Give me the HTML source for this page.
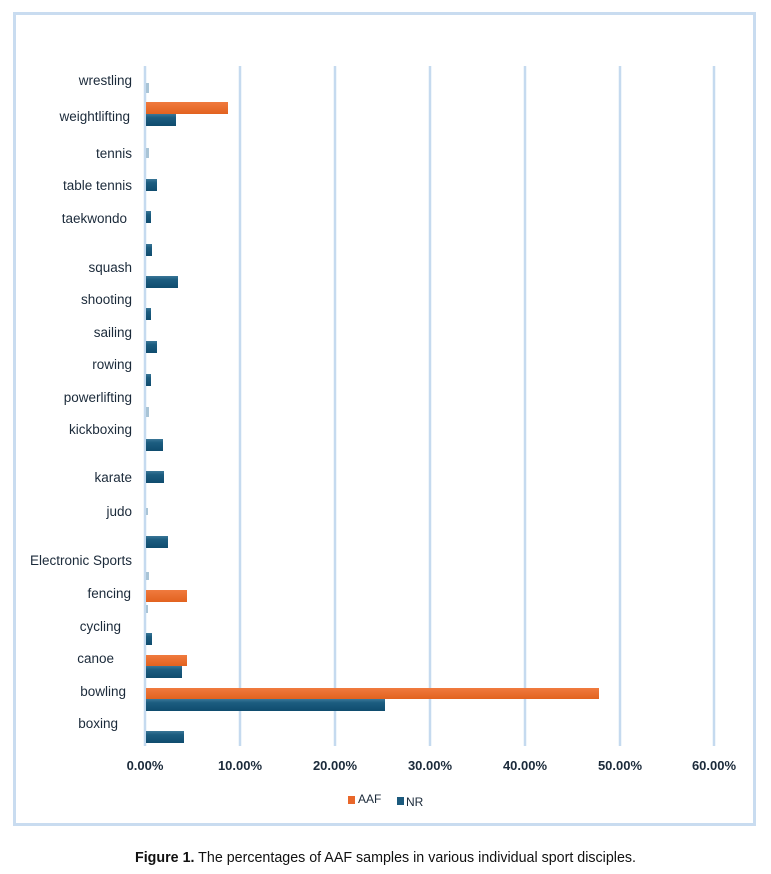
<!DOCTYPE html>
<html><head><meta charset="utf-8"><style>
body{margin:0;background:#fff;width:771px;height:869px;overflow:hidden;font-family:"Liberation Sans","DejaVu Sans",sans-serif}
</style></head><body>
<svg width="771" height="869" xmlns="http://www.w3.org/2000/svg" font-family="Liberation Sans, DejaVu Sans, sans-serif">
<defs>
<linearGradient id="nr" x1="0" y1="0" x2="0" y2="1"><stop offset="0" stop-color="#3a7697"/><stop offset="0.3" stop-color="#1c5d80"/><stop offset="1" stop-color="#0f4c6e"/></linearGradient>
<linearGradient id="af" x1="0" y1="0" x2="0" y2="1"><stop offset="0" stop-color="#f07a3e"/><stop offset="1" stop-color="#e2621f"/></linearGradient>
</defs>
<rect x="14.5" y="13.5" width="740" height="811" fill="#fff" stroke="#c9dcf0" stroke-width="3"/>
<g stroke="#c5daef" stroke-width="2.5">
<line x1="145" y1="66" x2="145" y2="746"/><line x1="240" y1="66" x2="240" y2="746"/><line x1="335" y1="66" x2="335" y2="746"/><line x1="430" y1="66" x2="430" y2="746"/><line x1="525" y1="66" x2="525" y2="746"/><line x1="620" y1="66" x2="620" y2="746"/><line x1="714" y1="66" x2="714" y2="746"/>
</g>
<g fill="#a9c4d6">
<rect x="146" y="83" width="3" height="10"/><rect x="146" y="148" width="3" height="10"/><rect x="146" y="407" width="3" height="10"/><rect x="146" y="508" width="2" height="7"/><rect x="146" y="572" width="3" height="8"/><rect x="146" y="605" width="2" height="8"/>
</g>
<g fill="url(#af)">
<rect x="146" y="102" width="82" height="12"/><rect x="146" y="590" width="41" height="12"/><rect x="146" y="655" width="41" height="11"/><rect x="146" y="688" width="453" height="11"/>
</g>
<g fill="url(#nr)">
<rect x="146" y="114" width="30" height="12"/><rect x="146" y="179" width="11" height="12"/><rect x="146" y="211" width="5" height="12"/><rect x="146" y="244" width="6" height="12"/><rect x="146" y="276" width="32" height="12"/><rect x="146" y="308" width="5" height="12"/><rect x="146" y="341" width="11" height="12"/><rect x="146" y="374" width="5" height="12"/><rect x="146" y="439" width="17" height="12"/><rect x="146" y="471" width="18" height="12"/><rect x="146" y="536" width="22" height="12"/><rect x="146" y="633" width="6" height="12"/><rect x="146" y="666" width="36" height="12"/><rect x="146" y="699" width="239" height="12"/><rect x="146" y="731" width="38" height="12"/>
</g>
<g font-size="13.5" fill="#1b2a3a" text-anchor="end">
<text x="132" y="85">wrestling</text>
<text x="130" y="121">weightlifting</text>
<text x="132" y="158">tennis</text>
<text x="132" y="190">table tennis</text>
<text x="127" y="223">taekwondo</text>
<text x="132" y="272">squash</text>
<text x="132" y="304">shooting</text>
<text x="132" y="337">sailing</text>
<text x="132" y="369">rowing</text>
<text x="132" y="402">powerlifting</text>
<text x="132" y="434">kickboxing</text>
<text x="132" y="482">karate</text>
<text x="132" y="516">judo</text>
<text x="132" y="565">Electronic Sports</text>
<text x="131" y="598">fencing</text>
<text x="121" y="631">cycling</text>
<text x="114" y="663">canoe</text>
<text x="126" y="696">bowling</text>
<text x="118" y="728">boxing</text>
</g>
<g font-size="13" fill="#1b2a3a" text-anchor="middle" font-weight="bold">
<text x="145" y="770">0.00%</text><text x="240" y="770">10.00%</text><text x="335" y="770">20.00%</text><text x="430" y="770">30.00%</text><text x="525" y="770">40.00%</text><text x="620" y="770">50.00%</text><text x="714" y="770">60.00%</text>
</g>
<rect x="348" y="796" width="7" height="8" fill="#e9672a"/>
<text x="358" y="803" font-size="12" fill="#1b2a3a">AAF</text>
<rect x="397" y="797" width="7" height="8" fill="#1c5a7d"/>
<text x="406" y="806" font-size="12" fill="#1b2a3a">NR</text>
<text x="135" y="862" font-size="15" fill="#111" textLength="501" lengthAdjust="spacingAndGlyphs"><tspan font-weight="bold">Figure 1.</tspan> The percentages of AAF samples in various individual sport disciples.</text>
</svg>
</body></html>
